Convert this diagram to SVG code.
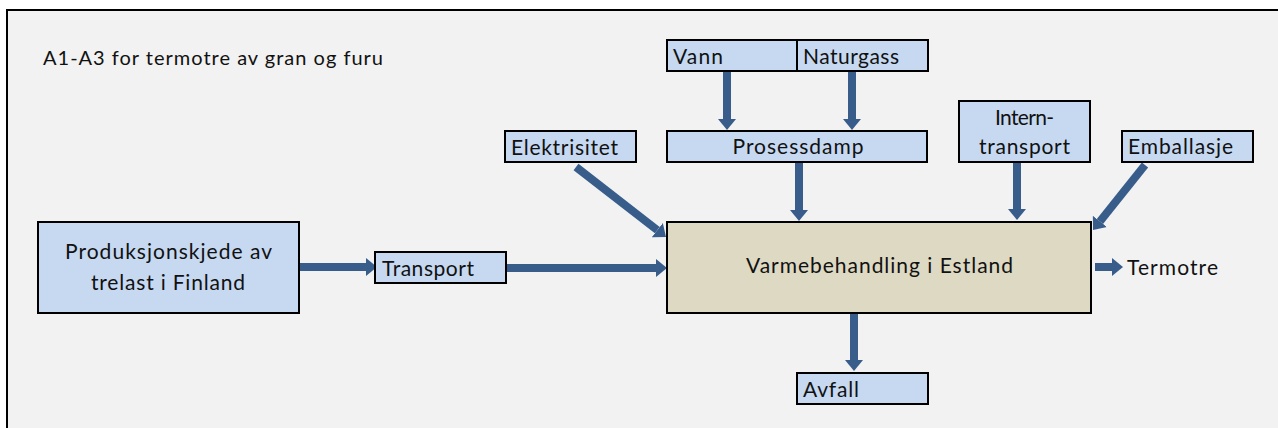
<svg xmlns="http://www.w3.org/2000/svg" width="1278" height="428" viewBox="0 0 1278 428">
<style>
.box{fill:#c6d9f1;stroke:#000;stroke-width:2}
.main{fill:#ddd9c3;stroke:#000;stroke-width:2}
.t{font-family:Lato,"Liberation Sans",sans-serif;font-size:21px;fill:#111}
.c{text-anchor:middle}
.arr{stroke:#385d8a;stroke-width:8;fill:none;marker-end:url(#ah)}
</style>
<defs>
<marker id="ah" markerUnits="userSpaceOnUse" markerWidth="12" markerHeight="18" refX="0" refY="9" orient="auto" viewBox="0 0 12 18">
<path d="M0,0 L11,9 L0,18 z" fill="#385d8a"/>
</marker>
</defs>
<rect x="0" y="0" width="1278" height="428" fill="#fff"/>
<rect x="7" y="10" width="1320" height="480" fill="#f2f2f2" stroke="#000" stroke-width="2"/>
<text class="t" x="43" y="65" style="font-size:20px" textLength="340" lengthAdjust="spacing">A1-A3 for termotre av gran og furu</text>
<g id="connectors">
<line class="arr" x1="727" y1="71" x2="727" y2="119"/>
<line class="arr" x1="852" y1="72" x2="852" y2="119"/>
<line class="arr" x1="799" y1="162" x2="799" y2="210"/>
<line class="arr" x1="1017" y1="162" x2="1017" y2="209"/>
<line class="arr" x1="854" y1="313" x2="854" y2="360"/>
<line class="arr" x1="299" y1="267" x2="366" y2="267"/>
<line class="arr" x1="506" y1="268" x2="656" y2="268"/>
<line class="arr" x1="1095" y1="267" x2="1112" y2="267"/>
<line class="arr" x1="576" y1="167" x2="657.3" y2="230.2"/>
<line class="arr" x1="1145" y1="165" x2="1099.9" y2="221.4"/>
</g>
<g id="vann"><rect class="box" x="667" y="40" width="130" height="31"/><text class="t" x="673" y="64" textLength="50" lengthAdjust="spacing">Vann</text></g>
<g id="naturgass"><rect class="box" x="797" y="40" width="131" height="31"/><text class="t" x="803" y="64" textLength="96" lengthAdjust="spacing">Naturgass</text></g>
<g id="elektrisitet"><rect class="box" x="505" y="131" width="131" height="31"/><text class="t" x="511" y="155" textLength="107" lengthAdjust="spacing">Elektrisitet</text></g>
<g id="prosessdamp"><rect class="box" x="667" y="131" width="260" height="31"/><text class="t c" x="798" y="154" textLength="131" lengthAdjust="spacing">Prosessdamp</text></g>
<g id="interntransport"><rect class="box" x="959" y="101" width="131" height="61"/><text class="t c" x="1024.5" y="125" textLength="59" lengthAdjust="spacing">Intern-</text><text class="t c" x="1024.5" y="154" textLength="91" lengthAdjust="spacing">transport</text></g>
<g id="emballasje"><rect class="box" x="1122" y="131" width="131" height="31"/><text class="t" x="1128" y="154" textLength="105" lengthAdjust="spacing">Emballasje</text></g>
<g id="varmebehandling"><rect class="main" x="667" y="222" width="424" height="91"/><text class="t" x="746" y="273" textLength="267" lengthAdjust="spacing">Varmebehandling i Estland</text></g>
<g id="termotre"><text class="t" x="1127" y="275" textLength="91" lengthAdjust="spacing">Termotre</text></g>
<g id="avfall"><rect class="box" x="797" y="373" width="131" height="31"/><text class="t" x="803" y="397" textLength="56" lengthAdjust="spacing">Avfall</text></g>
<g id="produksjon"><rect class="box" x="38" y="222" width="261" height="91"/><text class="t" x="65" y="259" textLength="207" lengthAdjust="spacing">Produksjonskjede av</text><text class="t" x="91" y="290" textLength="154" lengthAdjust="spacing">trelast i Finland</text></g>
<g id="transport"><rect class="box" x="375" y="252" width="131" height="31"/><text class="t" x="382" y="276" textLength="92" lengthAdjust="spacing">Transport</text></g>
</svg>
